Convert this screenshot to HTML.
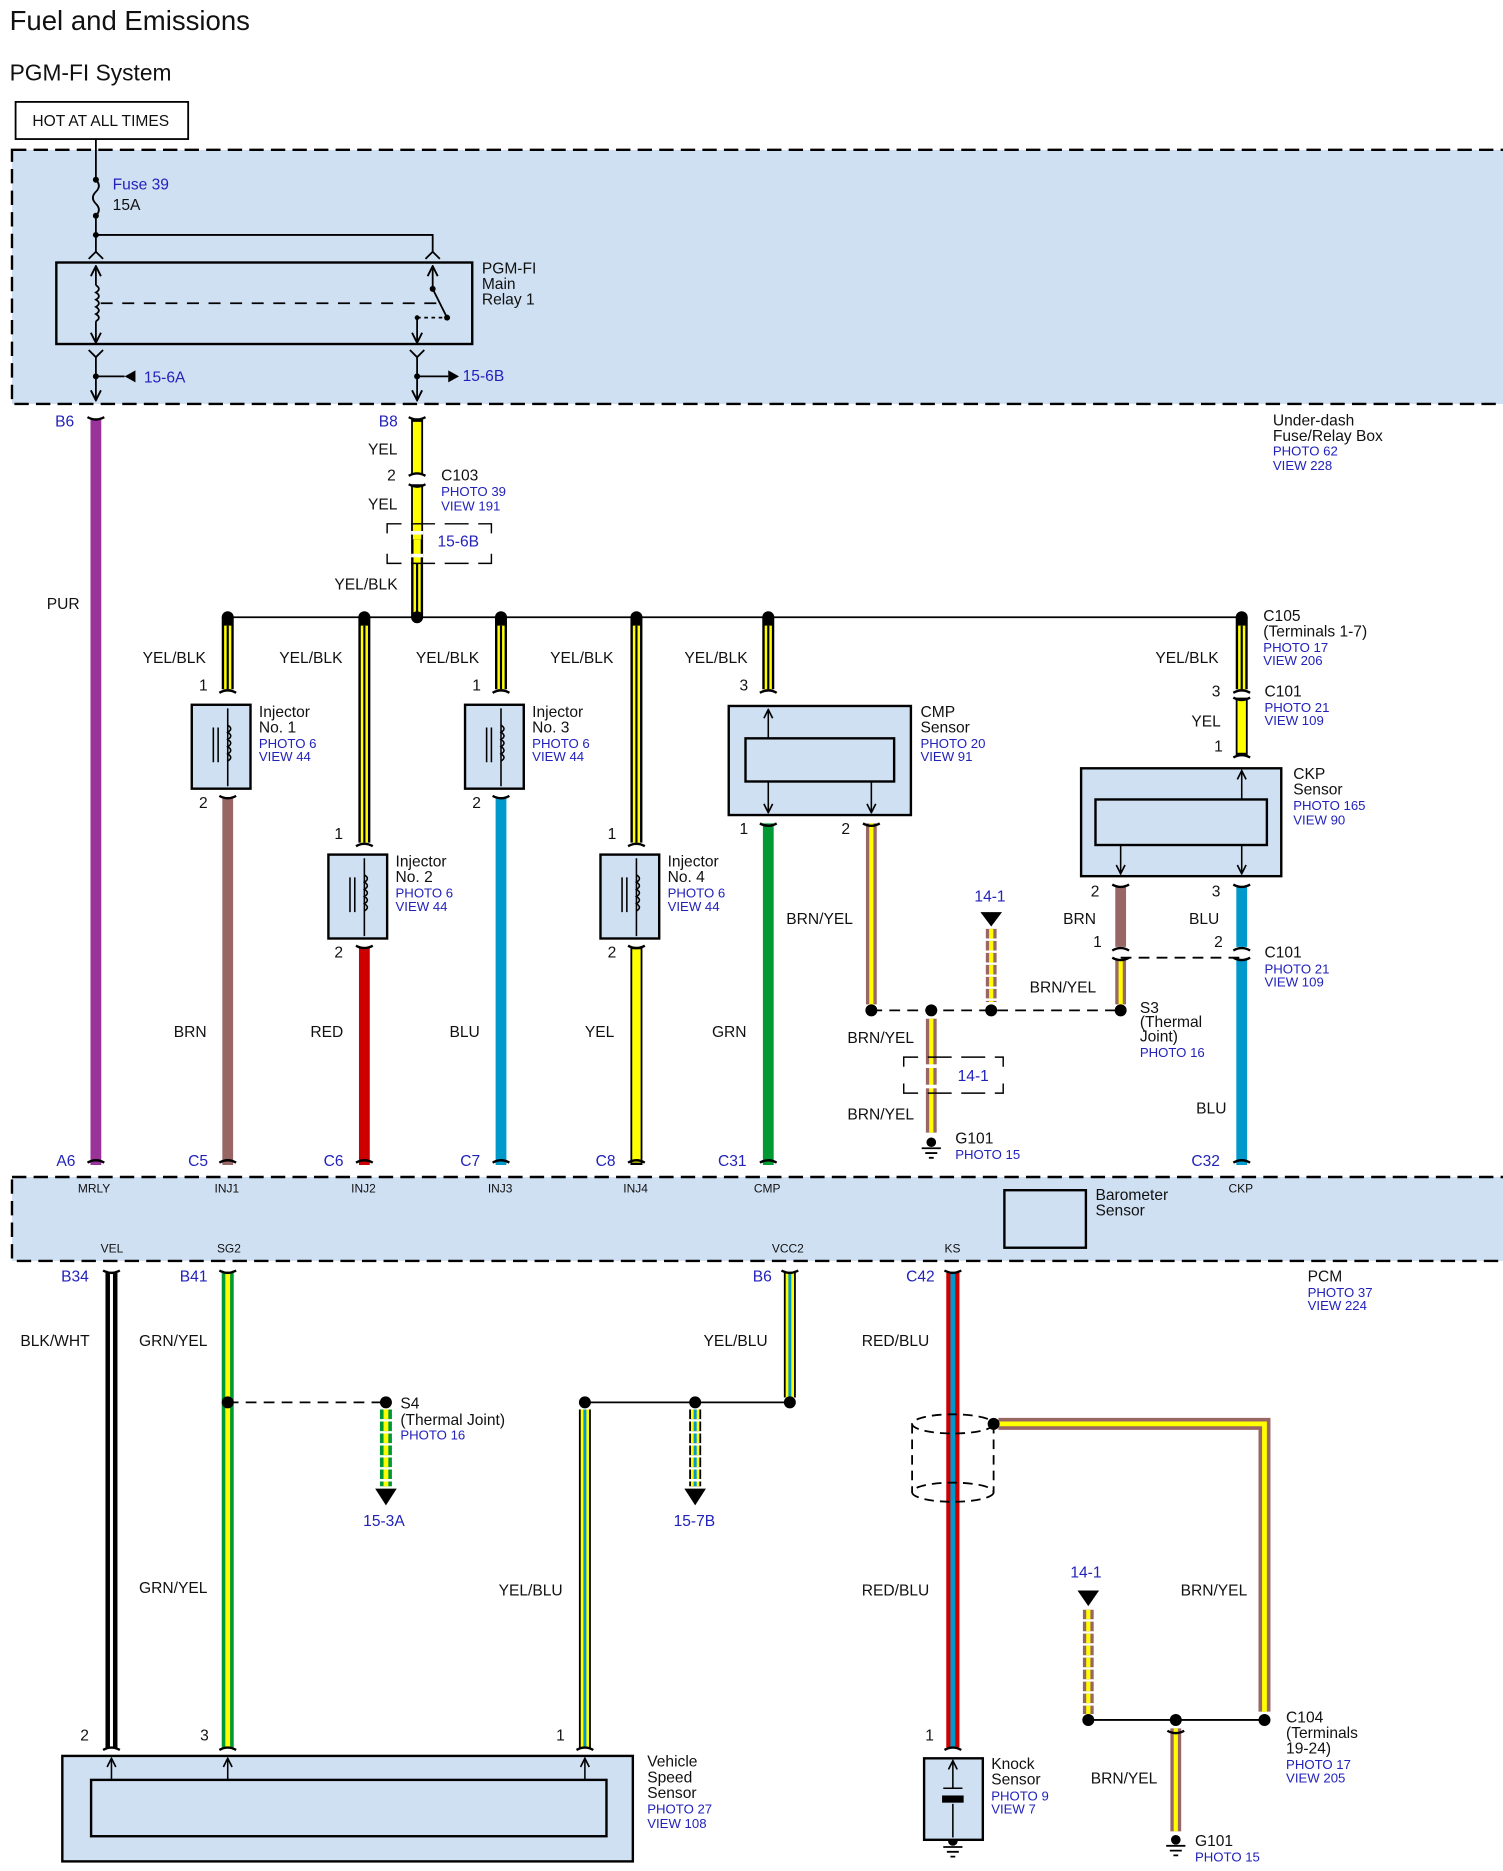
<!DOCTYPE html>
<html><head><meta charset="utf-8"><style>
html,body{margin:0;padding:0;background:#fff}
svg{display:block}
text{font-family:"Liberation Sans",Arial,sans-serif;font-size:13px;fill:#111}
.b{fill:#2222bb;font-size:11px}
.bl{fill:#2222bb;font-size:13px}
.s{font-size:10px}
</style></head><body>
<svg width="1503" height="1871" viewBox="0 0 1254 1561" xmlns="http://www.w3.org/2000/svg">
<defs>
<marker id="ah" viewBox="0 0 10 10" refX="9" refY="5" markerWidth="7" markerHeight="7" orient="auto-start-reverse"><path d="M1,1 L9,5 L1,9" fill="none" stroke="#000" stroke-width="1.5"/></marker>
</defs>
<text x="8" y="25" style="font-size:23px">Fuel and Emissions</text>
<text x="8" y="67" style="font-size:19px">PGM-FI System</text>
<rect x="13" y="85" width="144" height="31" fill="#fff" stroke="#000" stroke-width="1.5"/>
<text x="27" y="105">HOT AT ALL TIMES</text>

<!-- fuse box -->
<rect x="10" y="125" width="1260" height="212" fill="#cfe0f3" stroke="#000" stroke-width="2" stroke-dasharray="12,6"/>
<g stroke="#000" stroke-width="1.5" fill="none">
<line x1="80" y1="116" x2="80" y2="150"/>
<path d="M80,150 q5,5 0,10 q-5,5 0,10 q5,5 0,10"/>
<line x1="80" y1="180" x2="80" y2="210"/>
<polyline points="80,196 361,196 361,210"/>
<path d="M74,216 L80,210 L86,216 M355,216 L361,210 L367,216"/>
<rect x="47" y="219" width="347" height="68" stroke-width="2"/>
<line x1="80" y1="222" x2="80" y2="238" marker-start="url(#ah)"/>
<path d="M80,238 q5,3 0,6 q5,3 0,6 q5,3 0,6 q5,3 0,6 q5,3 0,6"/>
<line x1="80" y1="268" x2="80" y2="286" marker-end="url(#ah)"/>
<line x1="84" y1="253" x2="364" y2="253" stroke-dasharray="10,8"/>
<line x1="361" y1="222" x2="361" y2="241" marker-start="url(#ah)"/>
<line x1="361" y1="241" x2="373" y2="265"/>
<line x1="348" y1="265" x2="373" y2="265" stroke-dasharray="3,3"/>
<line x1="348" y1="265" x2="348" y2="286" marker-end="url(#ah)"/>
<path d="M74,292 L80,298 L86,292 M342,292 L348,298 L354,292"/>
<line x1="80" y1="298" x2="80" y2="334" marker-end="url(#ah)"/>
<line x1="348" y1="298" x2="348" y2="334" marker-end="url(#ah)"/>
<line x1="80" y1="314" x2="104" y2="314"/>
<line x1="348" y1="314" x2="374" y2="314"/>
</g>
<g fill="#000">
<circle cx="80" cy="150" r="2.5"/><circle cx="80" cy="180" r="2.5"/><circle cx="80" cy="196" r="2.5"/>
<circle cx="361" cy="241" r="2.5"/><circle cx="373" cy="265" r="2.5"/><circle cx="348" cy="265" r="2"/>
<circle cx="80" cy="314" r="2.5"/><circle cx="348" cy="314" r="2.5"/>
<path d="M104,314 L113,309 L113,319 Z"/><path d="M383,314 L374,309 L374,319 Z"/>
</g>
<text x="94" y="158" class="bl">Fuse 39</text><text x="94" y="175">15A</text>
<text x="402" y="228">PGM-FI</text><text x="402" y="241">Main</text><text x="402" y="254">Relay 1</text>
<text x="120" y="319" class="bl">15-6A</text><text x="386" y="318" class="bl">15-6B</text>
<text x="1062" y="355">Under-dash</text><text x="1062" y="368">Fuse/Relay Box</text>
<text x="1062" y="380" class="b">PHOTO 62</text><text x="1062" y="392" class="b">VIEW 228</text>

<!-- wires upper -->
<g fill="none">
<line x1="80" y1="350" x2="80" y2="972" stroke="#993399" stroke-width="9"/>
<line x1="348" y1="350" x2="348" y2="395" stroke="#000" stroke-width="10"/><line x1="348" y1="352" x2="348" y2="395" stroke="#ffff00" stroke-width="7"/>
<line x1="348" y1="404" x2="348" y2="450" stroke="#000" stroke-width="10"/><line x1="348" y1="406" x2="348" y2="450" stroke="#ffff00" stroke-width="7"/>
<g stroke="#000" stroke-width="10">
<line x1="348" y1="450" x2="348" y2="515"/><line x1="190" y1="515" x2="190" y2="575"/><line x1="304" y1="515" x2="304" y2="703"/>
<line x1="418" y1="515" x2="418" y2="575"/><line x1="531" y1="515" x2="531" y2="703"/><line x1="641" y1="515" x2="641" y2="575"/><line x1="1036" y1="515" x2="1036" y2="575"/>
</g>
<g stroke="#ffff00" stroke-width="6">
<line x1="348" y1="450" x2="348" y2="512"/><line x1="190" y1="522" x2="190" y2="575"/><line x1="304" y1="522" x2="304" y2="703"/>
<line x1="418" y1="522" x2="418" y2="575"/><line x1="531" y1="522" x2="531" y2="703"/><line x1="641" y1="522" x2="641" y2="575"/><line x1="1036" y1="522" x2="1036" y2="575"/>
</g>
<g stroke="#000" stroke-width="1.8">
<line x1="348" y1="470" x2="348" y2="512"/><line x1="190" y1="522" x2="190" y2="575"/><line x1="304" y1="522" x2="304" y2="703"/>
<line x1="418" y1="522" x2="418" y2="575"/><line x1="531" y1="522" x2="531" y2="703"/><line x1="641" y1="522" x2="641" y2="575"/><line x1="1036" y1="522" x2="1036" y2="575"/>
</g>
<line x1="190" y1="515" x2="1036" y2="515" stroke="#000" stroke-width="1.5"/>
<line x1="1036" y1="582" x2="1036" y2="630" stroke="#000" stroke-width="10"/><line x1="1036" y1="584" x2="1036" y2="628" stroke="#ffff00" stroke-width="7"/>
<line x1="190" y1="665" x2="190" y2="972" stroke="#996666" stroke-width="9"/>
<line x1="304" y1="790" x2="304" y2="972" stroke="#cc0000" stroke-width="9"/>
<line x1="418" y1="665" x2="418" y2="972" stroke="#0099cc" stroke-width="9"/>
<line x1="531" y1="790" x2="531" y2="972" stroke="#000" stroke-width="10"/><line x1="531" y1="792" x2="531" y2="970" stroke="#ffff00" stroke-width="7"/>
<line x1="641" y1="687" x2="641" y2="972" stroke="#009933" stroke-width="9"/>
<line x1="727" y1="687" x2="727" y2="838" stroke="#996666" stroke-width="9"/><line x1="727" y1="687" x2="727" y2="838" stroke="#ffff00" stroke-width="3.5"/>
<line x1="777" y1="850" x2="777" y2="945" stroke="#996666" stroke-width="9"/><line x1="777" y1="850" x2="777" y2="945" stroke="#ffff00" stroke-width="3.5"/>
<line x1="827" y1="775" x2="827" y2="836" stroke="#996666" stroke-width="9" stroke-dasharray="8,2"/><line x1="827" y1="775" x2="827" y2="836" stroke="#ffff00" stroke-width="3.5" stroke-dasharray="8,2"/>
<line x1="935" y1="740" x2="935" y2="790" stroke="#996666" stroke-width="9"/>
<line x1="935" y1="800" x2="935" y2="838" stroke="#996666" stroke-width="9"/><line x1="935" y1="800" x2="935" y2="838" stroke="#ffff00" stroke-width="3.5"/>
<line x1="1036" y1="740" x2="1036" y2="790" stroke="#0099cc" stroke-width="9"/>
<line x1="1036" y1="800" x2="1036" y2="972" stroke="#0099cc" stroke-width="9"/>
<g stroke="#000" stroke-width="1.5" stroke-dasharray="9,6">
<line x1="727" y1="843" x2="935" y2="843"/><line x1="935" y1="799" x2="1036" y2="799"/>
</g>
<path d="M323,445 V437 H410 V445 M323,462 V470 H410 V462" stroke="#000" stroke-width="1.2" stroke-dasharray="20,8"/>
<path d="M754,890 V882 H837 V890 M754,904 V912 H837 V904" stroke="#000" stroke-width="1.2" stroke-dasharray="20,8"/>
</g>
<rect x="343" y="443" width="10" height="3" fill="#fff"/><rect x="343" y="462" width="10" height="3" fill="#fff"/>
<rect x="772" y="888" width="10" height="3" fill="#fff"/><rect x="772" y="905" width="10" height="3" fill="#fff"/>
<g stroke="#000" stroke-width="2" fill="none">
<path d="M73,348 q7,4 14,0 M341,348 q7,4 14,0 M341,397 q7,-4 14,0 M341,404 q7,4 14,0"/>
<path d="M183,578 q7,-4 14,0 M411,578 q7,-4 14,0 M634,578 q7,-4 14,0 M297,706 q7,-4 14,0 M524,706 q7,-4 14,0 M1029,578 q7,-4 14,0 M1029,582 q7,4 14,0 M1029,632 q7,-4 14,0"/>
<path d="M183,664 q7,4 14,0 M411,664 q7,4 14,0 M297,789 q7,4 14,0 M524,789 q7,4 14,0 M634,687 q7,4 14,0 M720,687 q7,4 14,0 M928,738 q7,4 14,0 M1029,738 q7,4 14,0 M928,793 q7,-4 14,0 M928,799 q7,4 14,0 M1029,793 q7,-4 14,0 M1029,799 q7,4 14,0"/>
<path d="M73,970 q7,-4 14,0 M183,970 q7,-4 14,0 M297,970 q7,-4 14,0 M411,970 q7,-4 14,0 M524,970 q7,-4 14,0 M634,970 q7,-4 14,0 M1029,970 q7,-4 14,0"/>
</g>
<g fill="#000">
<circle cx="190" cy="515" r="5"/><circle cx="304" cy="515" r="5"/><circle cx="348" cy="515" r="5"/><circle cx="418" cy="515" r="5"/>
<circle cx="531" cy="515" r="5"/><circle cx="641" cy="515" r="5"/><circle cx="1036" cy="515" r="5"/>
<circle cx="727" cy="843" r="5"/><circle cx="777" cy="843" r="5"/><circle cx="827" cy="843" r="5"/><circle cx="935" cy="843" r="5"/>
<path d="M818,761 H836 L827,773 Z"/>
<circle cx="777" cy="953" r="4"/>
</g>
<path d="M769,958 H785 M772,962 H782 M775,966 H779" stroke="#000" stroke-width="1.5"/>

<g stroke="#000" fill="#cfe0f3" stroke-width="2">
<rect x="160" y="588" width="49" height="70"/><rect x="388" y="588" width="49" height="70"/>
<rect x="274" y="713" width="49" height="70"/><rect x="501" y="713" width="49" height="70"/>
<rect x="608" y="589" width="152" height="91"/><rect x="622" y="616" width="124" height="36"/>
<rect x="902" y="641" width="167" height="90"/><rect x="914" y="667" width="143" height="38"/>
</g>
<g stroke="#000" stroke-width="1.3" fill="none">
<path d="M190,591 V656 M418,591 V656 M304,716 V781 M531,716 V781"/>
<path d="M190,605 q5,3 0,6 q5,3 0,6 q5,3 0,6 q5,3 0,6 q5,3 0,6 M418,605 q5,3 0,6 q5,3 0,6 q5,3 0,6 q5,3 0,6 q5,3 0,6 M304,730 q5,3 0,6 q5,3 0,6 q5,3 0,6 q5,3 0,6 q5,3 0,6 M531,730 q5,3 0,6 q5,3 0,6 q5,3 0,6 q5,3 0,6 q5,3 0,6"/>
<path d="M178,607 V636 M182,607 V636 M406,607 V636 M410,607 V636 M292,732 V761 M296,732 V761 M519,732 V761 M523,732 V761"/>
<line x1="641" y1="616" x2="641" y2="592" marker-end="url(#ah)"/>
<line x1="641" y1="652" x2="641" y2="678" marker-end="url(#ah)"/>
<line x1="727" y1="652" x2="727" y2="678" marker-end="url(#ah)"/>
<line x1="1036" y1="667" x2="1036" y2="643" marker-end="url(#ah)"/>
<line x1="935" y1="705" x2="935" y2="729" marker-end="url(#ah)"/>
<line x1="1036" y1="705" x2="1036" y2="729" marker-end="url(#ah)"/>
</g>

<text x="46" y="356" class="bl">B6</text><text x="316" y="356" class="bl">B8</text>
<text x="307" y="379">YEL</text><text x="323" y="401">2</text><text x="307" y="425">YEL</text>
<text x="368" y="401">C103</text><text x="368" y="414" class="b">PHOTO 39</text><text x="368" y="426" class="b">VIEW 191</text>
<text x="365" y="456" class="bl">15-6B</text>
<text x="279" y="492">YEL/BLK</text><text x="39" y="508">PUR</text>
<text x="1054" y="518">C105</text><text x="1054" y="531">(Terminals 1-7)</text><text x="1054" y="544" class="b">PHOTO 17</text><text x="1054" y="555" class="b">VIEW 206</text>
<text x="119" y="553">YEL/BLK</text><text x="233" y="553">YEL/BLK</text><text x="347" y="553">YEL/BLK</text><text x="459" y="553">YEL/BLK</text><text x="571" y="553">YEL/BLK</text><text x="964" y="553">YEL/BLK</text>
<text x="166" y="576">1</text><text x="394" y="576">1</text><text x="617" y="576">3</text><text x="1011" y="581">3</text>
<text x="1055" y="581">C101</text><text x="1055" y="594" class="b">PHOTO 21</text><text x="1055" y="605" class="b">VIEW 109</text>
<text x="994" y="606">YEL</text><text x="1013" y="627">1</text>
<text x="216" y="598">Injector</text><text x="216" y="611">No. 1</text><text x="216" y="624" class="b">PHOTO 6</text><text x="216" y="635" class="b">VIEW 44</text>
<text x="444" y="598">Injector</text><text x="444" y="611">No. 3</text><text x="444" y="624" class="b">PHOTO 6</text><text x="444" y="635" class="b">VIEW 44</text>
<text x="330" y="723">Injector</text><text x="330" y="736">No. 2</text><text x="330" y="749" class="b">PHOTO 6</text><text x="330" y="760" class="b">VIEW 44</text>
<text x="557" y="723">Injector</text><text x="557" y="736">No. 4</text><text x="557" y="749" class="b">PHOTO 6</text><text x="557" y="760" class="b">VIEW 44</text>
<text x="768" y="598">CMP</text><text x="768" y="611">Sensor</text><text x="768" y="624" class="b">PHOTO 20</text><text x="768" y="635" class="b">VIEW 91</text>
<text x="1079" y="650">CKP</text><text x="1079" y="663">Sensor</text><text x="1079" y="676" class="b">PHOTO 165</text><text x="1079" y="688" class="b">VIEW 90</text>
<text x="166" y="674">2</text><text x="394" y="674">2</text><text x="279" y="700">1</text><text x="507" y="700">1</text>
<text x="617" y="696">1</text><text x="702" y="696">2</text><text x="279" y="799">2</text><text x="507" y="799">2</text>
<text x="910" y="748">2</text><text x="1011" y="748">3</text><text x="887" y="771">BRN</text><text x="992" y="771">BLU</text>
<text x="912" y="790">1</text><text x="1013" y="790">2</text>
<text x="1055" y="799">C101</text><text x="1055" y="812" class="b">PHOTO 21</text><text x="1055" y="823" class="b">VIEW 109</text>
<text x="813" y="752" class="bl">14-1</text><text x="656" y="771">BRN/YEL</text><text x="859" y="828">BRN/YEL</text>
<text x="951" y="845">S3</text><text x="951" y="857">(Thermal</text><text x="951" y="869">Joint)</text><text x="951" y="882" class="b">PHOTO 16</text>
<text x="707" y="870">BRN/YEL</text><text x="799" y="902" class="bl">14-1</text><text x="707" y="934">BRN/YEL</text>
<text x="797" y="954">G101</text><text x="797" y="967" class="b">PHOTO 15</text>
<text x="145" y="865">BRN</text><text x="259" y="865">RED</text><text x="375" y="865">BLU</text><text x="488" y="865">YEL</text><text x="594" y="865">GRN</text><text x="998" y="929">BLU</text>
<text x="47" y="973" class="bl">A6</text><text x="157" y="973" class="bl">C5</text><text x="270" y="973" class="bl">C6</text><text x="384" y="973" class="bl">C7</text><text x="497" y="973" class="bl">C8</text><text x="599" y="973" class="bl">C31</text><text x="994" y="973" class="bl">C32</text>

<rect x="10" y="982" width="1260" height="70" fill="#cfe0f3" stroke="#000" stroke-width="2" stroke-dasharray="12,6"/>
<rect x="838" y="993" width="68" height="48" fill="#cfe0f3" stroke="#000" stroke-width="2"/>
<text x="914" y="1001">Barometer</text><text x="914" y="1014">Sensor</text>
<text x="65" y="995" class="s">MRLY</text><text x="179" y="995" class="s">INJ1</text><text x="293" y="995" class="s">INJ2</text><text x="407" y="995" class="s">INJ3</text><text x="520" y="995" class="s">INJ4</text><text x="629" y="995" class="s">CMP</text><text x="1025" y="995" class="s">CKP</text>
<text x="84" y="1045" class="s">VEL</text><text x="181" y="1045" class="s">SG2</text><text x="644" y="1045" class="s">VCC2</text><text x="788" y="1045" class="s">KS</text>
<text x="1091" y="1069">PCM</text><text x="1091" y="1082" class="b">PHOTO 37</text><text x="1091" y="1093" class="b">VIEW 224</text>

<g fill="none">
<line x1="93" y1="1062" x2="93" y2="1458" stroke="#000" stroke-width="10"/><line x1="93" y1="1062" x2="93" y2="1458" stroke="#fff" stroke-width="2.5"/>
<line x1="190" y1="1062" x2="190" y2="1458" stroke="#009933" stroke-width="10"/><line x1="190" y1="1062" x2="190" y2="1458" stroke="#ffff00" stroke-width="4"/>
<line x1="659" y1="1062" x2="659" y2="1166" stroke="#000" stroke-width="10"/><line x1="659" y1="1062" x2="659" y2="1166" stroke="#ffff00" stroke-width="7"/><line x1="659" y1="1062" x2="659" y2="1166" stroke="#0099cc" stroke-width="2.5"/>
<line x1="488" y1="1176" x2="488" y2="1458" stroke="#000" stroke-width="10"/><line x1="488" y1="1176" x2="488" y2="1458" stroke="#ffff00" stroke-width="7"/><line x1="488" y1="1176" x2="488" y2="1458" stroke="#0099cc" stroke-width="2.5"/>
<line x1="580" y1="1176" x2="580" y2="1240" stroke="#000" stroke-width="10" stroke-dasharray="8,2"/><line x1="580" y1="1176" x2="580" y2="1240" stroke="#ffff00" stroke-width="7" stroke-dasharray="8,2"/><line x1="580" y1="1176" x2="580" y2="1240" stroke="#0099cc" stroke-width="2.5" stroke-dasharray="8,2"/>
<line x1="322" y1="1176" x2="322" y2="1240" stroke="#009933" stroke-width="10" stroke-dasharray="8,2"/><line x1="322" y1="1176" x2="322" y2="1240" stroke="#ffff00" stroke-width="4" stroke-dasharray="8,2"/>
<line x1="795" y1="1062" x2="795" y2="1458" stroke="#cc0000" stroke-width="11"/><line x1="795" y1="1062" x2="795" y2="1458" stroke="#0099cc" stroke-width="4"/>
<path d="M833,1188 H1055 V1428" stroke="#996666" stroke-width="10"/><path d="M833,1188 H1055 V1428" stroke="#ffff00" stroke-width="4"/>
<line x1="908" y1="1343" x2="908" y2="1430" stroke="#996666" stroke-width="9" stroke-dasharray="8,2"/><line x1="908" y1="1343" x2="908" y2="1430" stroke="#ffff00" stroke-width="3.5" stroke-dasharray="8,2"/>
<line x1="981" y1="1442" x2="981" y2="1528" stroke="#996666" stroke-width="9"/><line x1="981" y1="1442" x2="981" y2="1528" stroke="#ffff00" stroke-width="3.5"/>
<g stroke="#000" stroke-width="1.5">
<line x1="488" y1="1170" x2="659" y2="1170"/><line x1="908" y1="1435" x2="1055" y2="1435"/>
<line x1="190" y1="1170" x2="322" y2="1170" stroke-dasharray="9,6"/>
</g>
<g stroke="#000" stroke-width="1.5" stroke-dasharray="8,5">
<ellipse cx="795" cy="1188" rx="34" ry="8"/><ellipse cx="795" cy="1245" rx="34" ry="8"/>
<line x1="761" y1="1188" x2="761" y2="1245"/><line x1="829" y1="1188" x2="829" y2="1245"/>
</g>
<g stroke="#000" stroke-width="2">
<path d="M86,1060 q7,4 14,0 M183,1060 q7,4 14,0 M652,1060 q7,4 14,0 M788,1060 q7,4 14,0"/>
<path d="M86,1460 q7,-4 14,0 M183,1460 q7,-4 14,0 M481,1460 q7,-4 14,0 M788,1460 q7,-4 14,0 M974,1444 q7,4 14,0"/>
</g>
</g>
<g fill="#000">
<circle cx="190" cy="1170" r="5"/><circle cx="322" cy="1170" r="5"/><circle cx="488" cy="1170" r="5"/><circle cx="580" cy="1170" r="5"/><circle cx="659" cy="1170" r="5"/>
<circle cx="829" cy="1188" r="5"/><circle cx="908" cy="1435" r="5"/><circle cx="981" cy="1435" r="5"/><circle cx="1055" cy="1435" r="5"/>
<path d="M313,1242 H331 L322,1256 Z"/><path d="M571,1242 H589 L580,1256 Z"/><path d="M899,1327 H917 L908,1340 Z"/>
<circle cx="981" cy="1535" r="4"/><circle cx="795" cy="1536" r="4"/>
</g>
<path d="M973,1540 H989 M976,1544 H986 M979,1548 H983 M787,1541 H803 M790,1545 H800 M793,1549 H797" stroke="#000" stroke-width="1.5"/>
<g stroke="#000" fill="#cfe0f3" stroke-width="2">
<rect x="52" y="1465" width="476" height="88"/><rect x="76" y="1485" width="430" height="47"/>
<rect x="771" y="1467" width="49" height="68"/>
</g>
<g stroke="#000" stroke-width="1.3" fill="none">
<line x1="93" y1="1485" x2="93" y2="1467" marker-end="url(#ah)"/><line x1="190" y1="1485" x2="190" y2="1467" marker-end="url(#ah)"/><line x1="488" y1="1485" x2="488" y2="1467" marker-end="url(#ah)"/>
<line x1="795" y1="1492" x2="795" y2="1469" marker-end="url(#ah)"/><line x1="795" y1="1505" x2="795" y2="1533"/>
<line x1="787" y1="1492" x2="803" y2="1492"/>
</g>
<rect x="786" y="1498" width="18" height="6" fill="#000"/>
<text x="67" y="1452">2</text><text x="167" y="1452">3</text><text x="464" y="1452">1</text><text x="772" y="1452">1</text>
<text x="51" y="1069" class="bl">B34</text><text x="150" y="1069" class="bl">B41</text><text x="628" y="1069" class="bl">B6</text><text x="756" y="1069" class="bl">C42</text>
<text x="17" y="1123">BLK/WHT</text><text x="116" y="1123">GRN/YEL</text><text x="587" y="1123">YEL/BLU</text><text x="719" y="1123">RED/BLU</text>
<text x="334" y="1175">S4</text><text x="334" y="1189">(Thermal Joint)</text><text x="334" y="1201" class="b">PHOTO 16</text>
<text x="303" y="1273" class="bl">15-3A</text><text x="562" y="1273" class="bl">15-7B</text>
<text x="116" y="1329">GRN/YEL</text><text x="416" y="1331">YEL/BLU</text><text x="719" y="1331">RED/BLU</text><text x="985" y="1331">BRN/YEL</text>
<text x="893" y="1316" class="bl">14-1</text>
<text x="1073" y="1437">C104</text><text x="1073" y="1450">(Terminals</text><text x="1073" y="1463">19-24)</text><text x="1073" y="1476" class="b">PHOTO 17</text><text x="1073" y="1487" class="b">VIEW 205</text>
<text x="910" y="1488">BRN/YEL</text>
<text x="540" y="1474">Vehicle</text><text x="540" y="1487">Speed</text><text x="540" y="1500">Sensor</text><text x="540" y="1513" class="b">PHOTO 27</text><text x="540" y="1525" class="b">VIEW 108</text>
<text x="827" y="1476">Knock</text><text x="827" y="1489">Sensor</text><text x="827" y="1502" class="b">PHOTO 9</text><text x="827" y="1513" class="b">VIEW 7</text>
<text x="997" y="1540">G101</text><text x="997" y="1553" class="b">PHOTO 15</text>
</svg>
</body></html>
